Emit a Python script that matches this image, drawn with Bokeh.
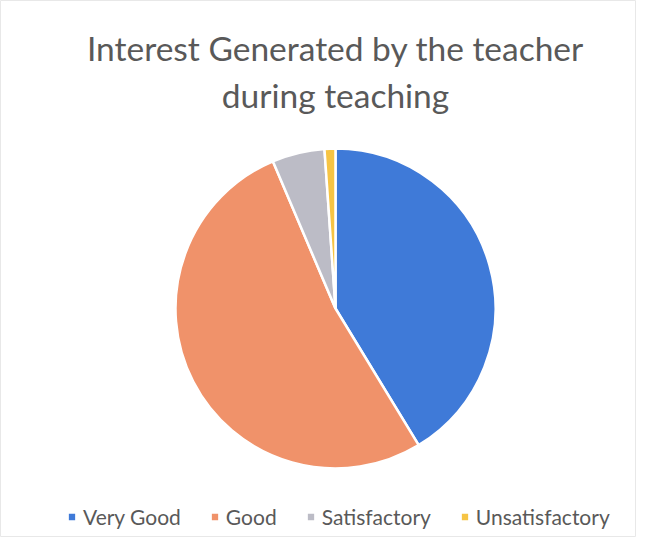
import math
from bokeh.plotting import figure
from bokeh.models import Range1d, Label, Legend, LegendItem, ColumnDataSource
from bokeh.embed import file_html
from bokeh.resources import INLINE

categories = ["Very Good", "Good", "Satisfactory", "Unsatisfactory"]
values = [41.3, 52.3, 5.3, 1.1]
colors = ["#3f7ad8", "#f0926a", "#bcbcc6", "#f6c444"]

W, H = 636, 537
R_PX = 160.0
CX, CY = 335.0, 308.0  # pie centre in figure pixels (from top-left)

p = figure(width=W, height=H, output_backend="svg", toolbar_location=None,
           min_border=0, x_range=Range1d(-CX / R_PX, (W - CX) / R_PX),
           y_range=Range1d(-(H - CY) / R_PX, CY / R_PX))
p.axis.visible = False
p.grid.visible = False
p.outline_line_color = "#e8e8e8"
p.background_fill_color = "white"
p.border_fill_color = "white"

total = sum(values)
cum = 0.0
items = []
for cat, v, c in zip(categories, values, colors):
    start = math.pi / 2 - 2 * math.pi * cum / total
    cum += v
    end = math.pi / 2 - 2 * math.pi * cum / total
    src = ColumnDataSource(dict(x=[0], y=[0], s=[start], e=[end]))
    r = p.wedge(x="x", y="y", radius=1.0, start_angle="s", end_angle="e",
                direction="clock", fill_color=c, line_color="white",
                line_width=2.5, source=src)
    items.append(LegendItem(label=cat, renderers=[r]))

legend = Legend(items=items, orientation="horizontal", location=(66, 8),
                label_text_font="Lato", label_text_font_size="21px",
                label_text_color="#595959", glyph_width=11, glyph_height=11,
                spacing=28, label_standoff=6, padding=0, margin=0,
                border_line_color=None, background_fill_alpha=0)
p.add_layout(legend, "center")

for txt, yy in [("Interest Generated by the teacher", 27), ("during teaching", 74)]:
    p.add_layout(Label(x=335, y=H - yy, x_units="screen", y_units="screen",
                       text=txt, text_align="center", text_baseline="top",
                       text_font="Lato", text_font_size="33.5px",
                       text_color="#595959"))

open("out.html", "w").write(file_html(p, INLINE))
